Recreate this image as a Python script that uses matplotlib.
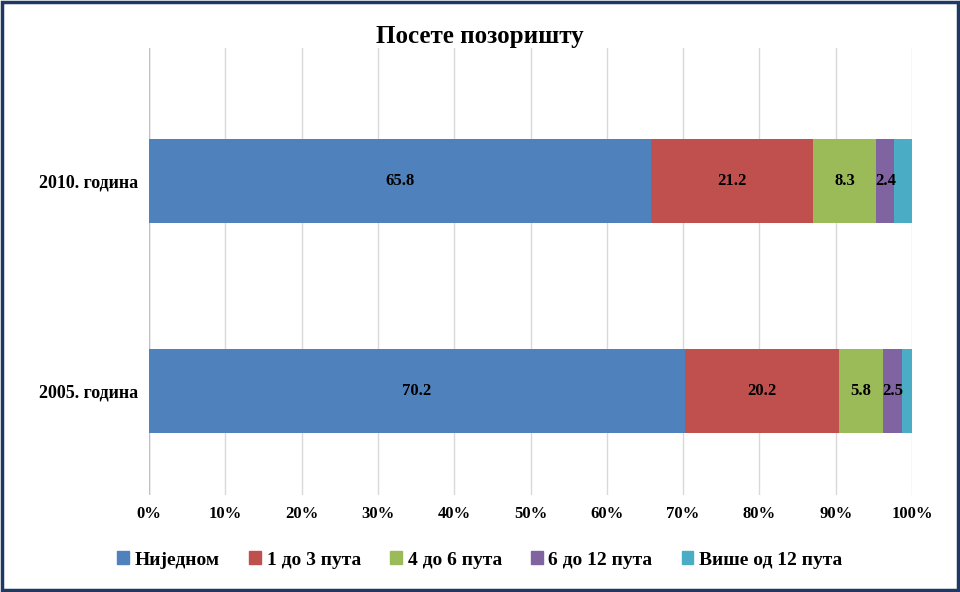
import matplotlib
matplotlib.use("Agg")
import matplotlib.pyplot as plt
from matplotlib.patches import Rectangle

categories = ["2005. година", "2010. година"]
series_names = ["Ниједном", "1 до 3 пута", "4 до 6 пута", "6 до 12 пута", "Више од 12 пута"]
values = {
    "Ниједном": [70.2, 65.8],
    "1 до 3 пута": [20.2, 21.2],
    "4 до 6 пута": [5.8, 8.3],
    "6 до 12 пута": [2.5, 2.4],
    "Више од 12 пута": [1.3, 2.3],
}
colors = ["#4F81BD", "#C0504D", "#9BBB59", "#8064A2", "#4BACC6"]
show_labels = [True, True, True, True, False]

plt.rcParams["font.family"] = "Liberation Serif"
plt.rcParams["font.weight"] = "bold"
fig = plt.figure(figsize=(9.6, 5.92), dpi=100)
ax = fig.add_axes([149/960, 1-495/592, (912-149)/960, (495-48)/592])

ypos = [0, 1]
left = [0, 0]
for name, c, sl in zip(series_names, colors, show_labels):
    v = values[name]
    ax.barh(ypos, v, left=left, height=0.4, color=c, zorder=3)
    if sl:
        for y, l, w in zip(ypos, left, v):
            ax.text(l + w/2, y, f"{w}", ha="center", va="center", fontsize=12, fontweight="bold", zorder=4)
    left = [a + b for a, b in zip(left, v)]

ax.set_xlim(0, 100)
ax.set_ylim(-0.495, 1.633)
ax.set_xticks(range(0, 101, 10))
ax.set_xticklabels([f"{t}%" for t in range(0, 101, 10)], fontsize=12, fontweight="bold")
ax.set_yticks(ypos)
ax.set_yticklabels(categories, fontsize=13, fontweight="bold")
ax.tick_params(length=0, pad=8)
ax.grid(axis="x", color="#D9D9D9", linewidth=1, zorder=0)
for s in ax.spines.values():
    s.set_visible(False)
ax.axvline(0, color="#BFBFBF", linewidth=1, zorder=2)

fig.text(0.5, 1-37/592, "Посете позоришту", ha="center", va="center", fontsize=18, fontweight="bold")
handles = [Rectangle((0, 0), 1, 1, color=c) for c in colors]
fig.legend(handles, series_names, loc="center", bbox_to_anchor=(0.5, 1-560/592), ncol=5,
           frameon=False, prop={"size": 14, "weight": "bold"}, handlelength=0.6, handleheight=0.6,
           handletextpad=0.3, columnspacing=1.5)
fig.add_artist(Rectangle((0.002, 0.003), 0.996, 0.994, transform=fig.transFigure, fill=False,
                         edgecolor="#1F3864", linewidth=2.5))
fig.savefig("out.png", dpi=100)
